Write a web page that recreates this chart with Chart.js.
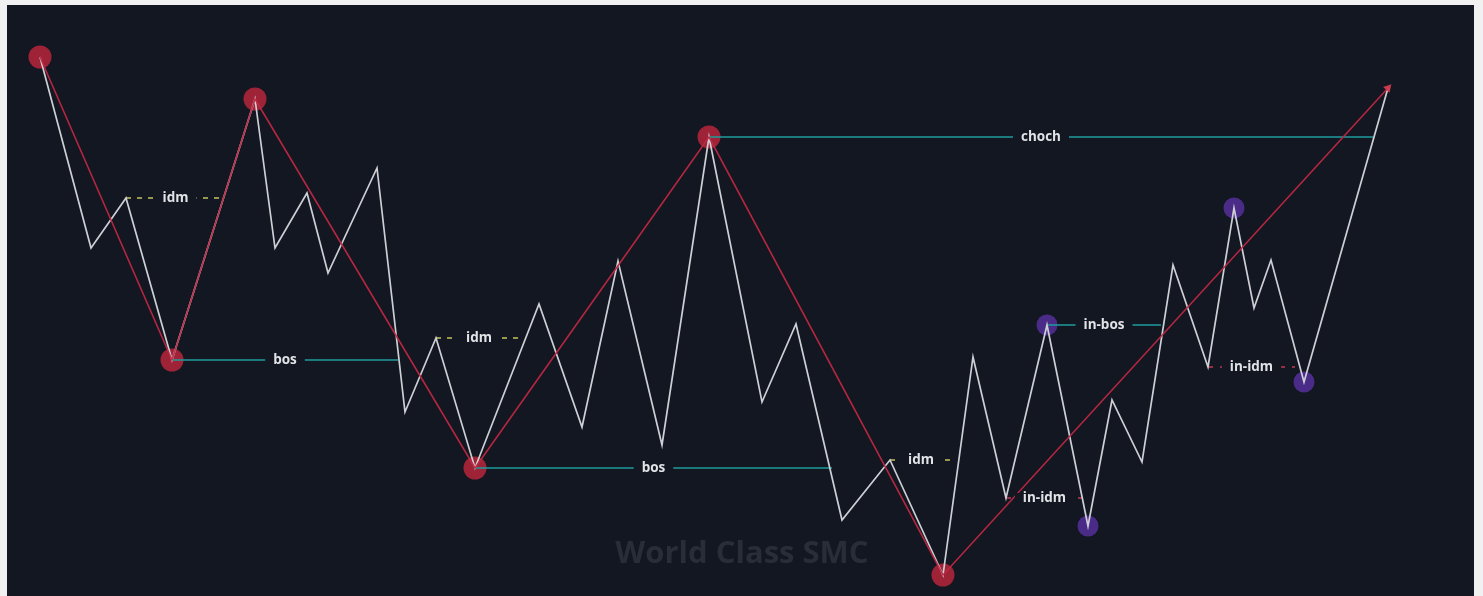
<!DOCTYPE html>
<html>
<head>
<meta charset="utf-8">
<script src="https://cdn.jsdelivr.net/npm/chart.js@4.4.0/dist/chart.umd.min.js"></script>
<style>
  html, body { margin:0; padding:0; background:#f1f1f2; width:1483px; height:596px; overflow:hidden; }
  #wrap { position:absolute; left:7px; top:5px; width:1467px; height:591px; background:#131722; }
</style>
</head>
<body>
<div id="wrap"><canvas id="smcChart"></canvas></div>
<script>
// Price path (bar, price)
const swingT = [33, 84, 119, 165, 248, 268, 300, 321, 370, 398, 429, 468, 532, 575, 611, 655, 702,
  755, 789, 835, 883, 936, 966, 999, 1040, 1081, 1105, 1135, 1166, 1201, 1227, 1247, 1264, 1297, 1381];
const swingP = [539, 348, 398, 236, 497, 348, 403, 323, 428, 184, 258, 128, 292, 169, 335, 151, 459,
  194, 272, 76, 136, 21, 239, 98, 271, 70, 196, 134, 331, 229, 388, 288, 336, 214, 508];

// Major structure swings (index into swing arrays), last one is the arrow
const structIdx = [0, 3, 4, 11, 16, 21, 34];
const majorIdx = [0, 3, 4, 11, 16, 21];
const internalIdx = [24, 25, 30, 33];

// Levels
const levelNames = ["idm", "bos", "idm", "bos", "choch", "idm", "in-idm", "in-bos", "in-idm"];
const levelKind  = ["idm", "bos", "idm", "bos", "bos", "idm", "inidm", "bos", "inidm"];
const levelStart = [119, 165, 429, 468, 702, 883, 999, 1040, 1201];
const levelEnd   = [218, 391, 515, 825, 1366, 945, 1076, 1154, 1288];
const levelPrice = [398, 236, 258, 128, 459, 136, 98, 271, 229];

const BG = "#131722";
const kindStyle = {
  idm:   { color:"#c4c45a", dash:[5,6] },
  bos:   { color:"#1f9c9c", dash:[] },
  inidm: { color:"#c23a52", dash:[5,7] }
};

const pts = idx => idx.map(i => ({ x: swingT[i], y: swingP[i] }));

const datasets = [];
datasets.push({
  type:'scatter', data: pts(majorIdx), order: 6,
  pointRadius: 11.5, pointHoverRadius: 11.5, pointBackgroundColor:'rgba(178,38,58,0.88)', pointBorderWidth:0, clip:false
});
datasets.push({
  type:'scatter', data: pts(internalIdx), order: 6,
  pointRadius: 10.5, pointHoverRadius: 10.5, pointBackgroundColor:'rgba(82,48,150,0.88)', pointBorderWidth:0, clip:false
});
levelNames.forEach((n, k) => {
  const st = kindStyle[levelKind[k]];
  datasets.push({
    type:'line', order: 4,
    data:[{x:levelStart[k], y:levelPrice[k]}, {x:levelEnd[k], y:levelPrice[k]}],
    borderColor: st.color, borderWidth: 1.6, borderDash: st.dash, pointRadius: 0, tension: 0
  });
});
datasets.push({
  type:'line', order: 2, data: swingT.map((t, i) => ({x:t, y:swingP[i]})),
  borderColor:'#cdcfd5', borderWidth:1.7, pointRadius:0, tension:0
});
const structPts = pts(structIdx);
datasets.push({
  type:'line', order: 1, data: structPts,
  borderColor:'rgba(190,40,66,0.95)', borderWidth:1.6, tension:0, clip:false,
  pointRadius: structPts.map((p, i) => i === structPts.length - 1 ? 5 : 0),
  pointStyle:'triangle', pointRotation: 42,
  pointBackgroundColor:'rgba(210,60,80,0.95)', pointBorderWidth:0
});

const labelPlugin = {
  id:'smcLabels',
  beforeDatasetsDraw(chart){
    const {ctx, chartArea:a} = chart;
    ctx.save();
    ctx.font = "bold 31px 'Open Sans'";
    ctx.fillStyle = "#292d38";
    ctx.textAlign = "center";
    ctx.textBaseline = "middle";
    ctx.fillText("World Class SMC", a.left + a.width*0.501, a.top + a.height*0.929);
    ctx.restore();
  },
  afterDatasetsDraw(chart){
    const {ctx, scales} = chart;
    ctx.save();
    ctx.font = "bold 13.5px 'Open Sans'";
    ctx.textAlign = "center";
    ctx.textBaseline = "middle";
    levelNames.forEach((n, k) => {
      const x = scales.x.getPixelForValue((levelStart[k] + levelEnd[k]) / 2);
      const y = scales.y.getPixelForValue(levelPrice[k]);
      const w = ctx.measureText(n).width;
      ctx.fillStyle = BG;
      ctx.fillRect(x - w/2 - 8, y - 5, w + 16, 10);
      ctx.fillStyle = "#e2e3e7";
      ctx.fillText(n, x, y);
    });
    ctx.restore();
  }
};

new Chart(document.getElementById("smcChart"), {
  type:'line',
  data:{ datasets },
  options:{
    responsive:true, maintainAspectRatio:false, animation:false,
    layout:{ padding:0, autoPadding:false },
    scales:{
      x:{ type:'linear', min:0, max:1467, display:false },
      y:{ type:'linear', min:0, max:591, display:false }
    },
    plugins:{ legend:{display:false}, tooltip:{enabled:false} }
  },
  plugins:[labelPlugin]
});
</script>
</body>
</html>
